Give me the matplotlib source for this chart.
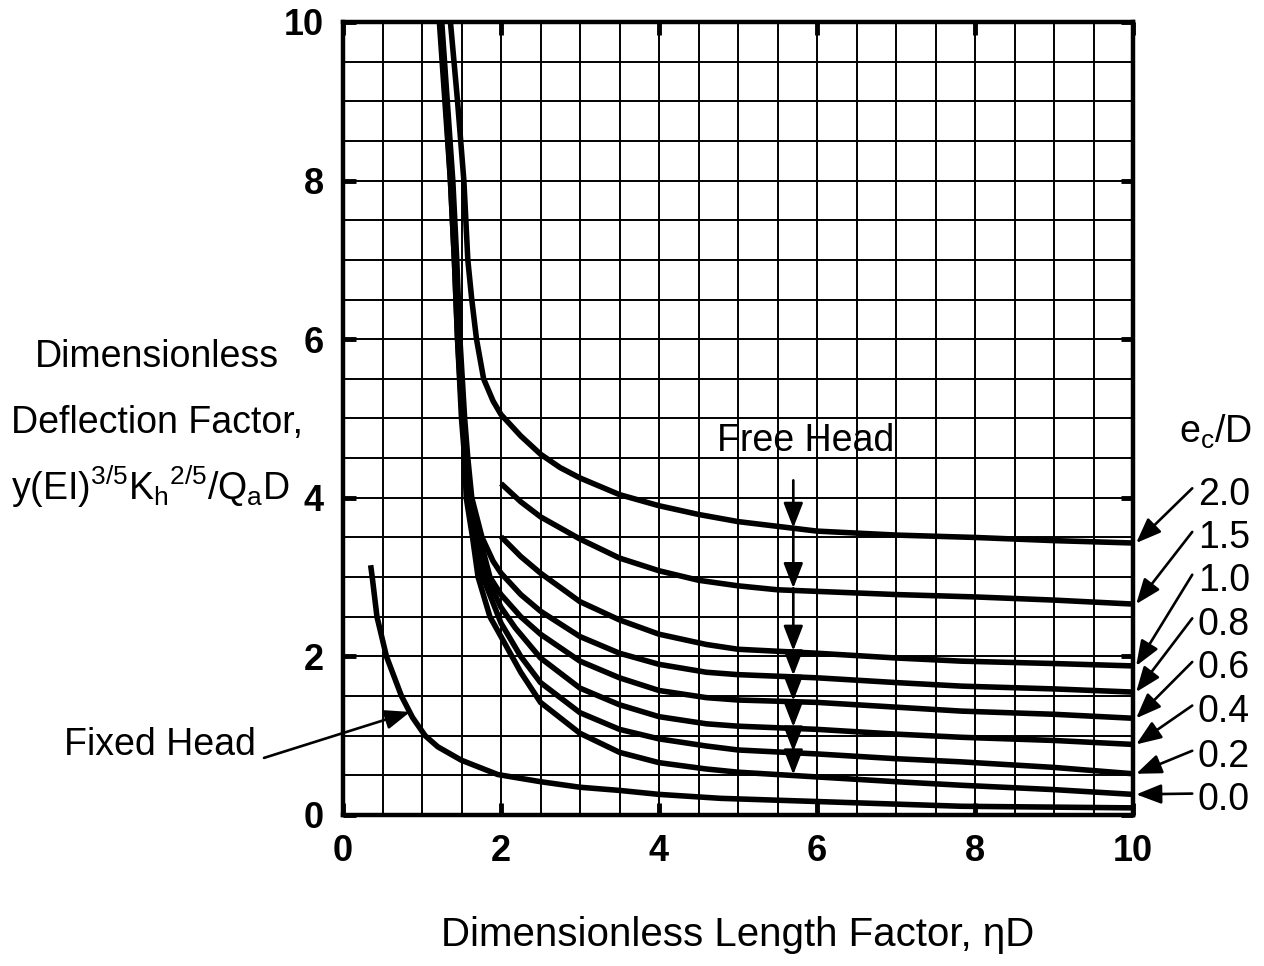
import numpy as np
import matplotlib
matplotlib.use("Agg")
import matplotlib.pyplot as plt

plt.rcParams['font.family'] = ['Liberation Sans', 'DejaVu Sans']
plt.rcParams['mathtext.fontset'] = 'custom'
plt.rcParams['mathtext.rm'] = 'Liberation Sans'
plt.rcParams['mathtext.it'] = 'Liberation Sans:italic'
plt.rcParams['mathtext.bf'] = 'Liberation Sans:bold'

# free head curves, e_c/D = 2.0 ... 0.0
x_20 = [1.36, 1.45, 1.53, 1.58, 1.63, 1.69, 1.78, 1.9, 2.0, 2.25, 2.5, 2.75, 3.0, 3.5, 4.0, 4.5, 5.0, 6.0, 7.0, 8.0, 9.0, 10.0]
y_20 = [10.0, 9.0, 8.0, 7.0, 6.5, 6.0, 5.5, 5.22, 5.05, 4.78, 4.55, 4.38, 4.25, 4.04, 3.9, 3.79, 3.7, 3.58, 3.53, 3.5, 3.46, 3.43]

x_15 = [2.0, 2.25, 2.5, 3.0, 3.5, 4.0, 4.5, 5.0, 5.5, 6.0, 7.0, 8.0, 9.0, 10.0]
y_15 = [4.18, 3.95, 3.76, 3.48, 3.24, 3.08, 2.96, 2.89, 2.84, 2.82, 2.78, 2.75, 2.71, 2.66]

x_10 = [2.0, 2.25, 2.5, 3.0, 3.5, 4.0, 4.6, 5.0, 6.0, 7.0, 7.83, 9.0, 10.0]
y_10 = [3.51, 3.26, 3.05, 2.69, 2.46, 2.28, 2.15, 2.09, 2.04, 1.98, 1.94, 1.91, 1.88]

# the 0.8 .. 0.0 curves come down together from the top edge
x_08 = [1.25, 1.32, 1.39, 1.44, 1.48, 1.54, 1.58, 1.63, 1.76, 1.9, 2.0, 2.25, 2.5, 3.0, 3.5, 4.0, 4.6, 5.0, 6.0, 7.0, 7.83, 9.0, 10.0]
y_08 = [10.0, 9.0, 8.0, 7.0, 6.0, 5.0, 4.5, 4.0, 3.5, 3.2, 3.05, 2.78, 2.57, 2.25, 2.04, 1.9, 1.8, 1.77, 1.73, 1.67, 1.625, 1.59, 1.55]

x_06 = [1.24, 1.31, 1.38, 1.43, 1.47, 1.53, 1.57, 1.61, 1.73, 1.86, 2.0, 2.25, 2.5, 3.0, 3.5, 4.0, 4.6, 5.0, 6.0, 7.0, 7.83, 9.0, 10.0]
y_06 = [10.0, 9.0, 8.0, 7.0, 6.0, 5.0, 4.5, 4.0, 3.5, 3.0, 2.78, 2.5, 2.28, 1.94, 1.73, 1.57, 1.48, 1.45, 1.42, 1.36, 1.31, 1.27, 1.22]

x_04 = [1.23, 1.3, 1.37, 1.42, 1.46, 1.52, 1.56, 1.59, 1.7, 1.82, 2.0, 2.18, 2.5, 3.0, 3.5, 4.0, 4.6, 5.0, 6.0, 7.0, 7.83, 9.0, 10.0]
y_04 = [10.0, 9.0, 8.0, 7.0, 6.0, 5.0, 4.5, 4.0, 3.5, 3.0, 2.62, 2.36, 1.98, 1.6, 1.39, 1.24, 1.15, 1.12, 1.08, 1.02, 0.98, 0.94, 0.89]

x_02 = [1.23, 1.3, 1.36, 1.41, 1.45, 1.51, 1.55, 1.57, 1.67, 1.77, 2.0, 2.25, 2.5, 3.0, 3.5, 4.0, 4.6, 5.0, 6.0, 7.0, 7.83, 9.0, 10.0]
y_02 = [10.0, 9.0, 8.0, 7.0, 6.0, 5.0, 4.5, 4.0, 3.5, 3.0, 2.42, 2.0, 1.67, 1.29, 1.08, 0.96, 0.87, 0.82, 0.77, 0.71, 0.67, 0.6, 0.52]

x_00 = [1.22, 1.29, 1.36, 1.41, 1.45, 1.5, 1.54, 1.56, 1.64, 1.71, 1.86, 2.0, 2.25, 2.5, 3.0, 3.5, 4.0, 4.6, 5.0, 6.0, 7.0, 7.83, 9.0, 10.0]
y_00 = [10.0, 9.0, 8.0, 7.0, 6.0, 5.0, 4.5, 4.0, 3.5, 3.0, 2.5, 2.25, 1.8, 1.42, 1.03, 0.79, 0.66, 0.58, 0.54, 0.48, 0.42, 0.375, 0.32, 0.26]

# fixed head curve
x_fix = [0.35, 0.37, 0.43, 0.55, 0.74, 0.88, 1.04, 1.2, 1.5, 1.96, 2.5, 3.0, 3.5, 4.0, 4.78, 6.0, 7.83, 10.0]
y_fix = [3.15, 3.0, 2.5, 2.0, 1.5, 1.23, 1.0, 0.86, 0.69, 0.51, 0.42, 0.35, 0.31, 0.26, 0.21, 0.17, 0.11, 0.09]

ec_labels = ['2.0', '1.5', '1.0', '0.8', '0.6', '0.4', '0.2', '0.0']
ec_label_y = [4.04, 3.49, 2.95, 2.40, 1.85, 1.30, 0.73, 0.19]
curves = [(x_20, y_20), (x_15, y_15), (x_10, y_10), (x_08, y_08),
          (x_06, y_06), (x_04, y_04), (x_02, y_02), (x_00, y_00)]

# "Free Head" arrow down x = 5.7, tips on each curve
free_x = 5.7
free_top = 4.22
free_tips = [3.62, 2.86, 2.07, 1.76, 1.44, 1.11, 0.80, 0.51]

W, H = 1264, 966
fig = plt.figure(figsize=(W / 100, H / 100), dpi=100)
ax = fig.add_axes([343 / W, (H - 815) / H, 790 / W, 793 / H])

ax.set_xlim(0, 10)
ax.set_ylim(0, 10)
ax.set_xticks(np.arange(0, 11, 2))
ax.set_yticks(np.arange(0, 11, 2))
ax.set_xticks(np.arange(0, 10.01, 0.5), minor=True)
ax.set_yticks(np.arange(0, 10.01, 0.5), minor=True)
ax.grid(True, which='both', color='black', linewidth=1.4)
ax.set_axisbelow(True)
ax.tick_params(which='major', direction='in', length=9, width=3.5,
               top=True, right=True, labelsize=26, pad=14)
ax.tick_params(which='minor', length=0)
for lab in ax.get_xticklabels() + ax.get_yticklabels():
    lab.set_fontweight('bold')
for sp in ax.spines.values():
    sp.set_linewidth(3.2)

for cx, cy in curves:
    ax.plot(cx, cy, color='black', linewidth=4.0, solid_capstyle='butt',
            solid_joinstyle='round', zorder=3)
ax.plot(x_fix, y_fix, color='black', linewidth=4.0, solid_capstyle='butt',
        solid_joinstyle='round', zorder=3)

arrow_kw = dict(arrowstyle='-|>,head_length=0.9,head_width=0.35',
                color='black', lw=1.9, shrinkA=0, shrinkB=0, mutation_scale=17)

# Free Head arrows
prev = free_top
for tip in free_tips:
    ax.annotate('', xy=(free_x, tip), xytext=(free_x, prev),
                arrowprops=arrow_kw, zorder=4)
    prev = tip
ax.text(free_x + 0.15, 4.72, 'Free Head', fontsize=27, ha='center', va='center',
        zorder=5)

# Fixed Head label and arrow
ax.annotate('', xy=(0.85, 1.3), xytext=(-1.0, 0.72),
            arrowprops=arrow_kw, annotation_clip=False)
ax.text(-1.1, 0.88, 'Fixed Head', fontsize=27, ha='right', va='center',
        clip_on=False)

# e_c/D labels with arrows to the curve ends
ax.text(11.05, 4.83, r'e$_{\mathrm{c}}$/D', fontsize=27, ha='center', va='center',
        clip_on=False)
for lab, ly, (cx, cy) in zip(ec_labels, ec_label_y, curves):
    ax.text(10.82, ly, lab, fontsize=27, ha='left', va='center', clip_on=False)
    ax.annotate('', xy=(10.04, cy[-1]), xytext=(10.75, ly + 0.08),
                arrowprops=arrow_kw, annotation_clip=False)

# axis labels
fig.text(738 / W, 1 - 935 / H, 'Dimensionless Length Factor, ηD', fontsize=29,
         ha='center', va='center')
fig.text(157 / W, 1 - 357 / H, 'Dimensionless', fontsize=27, ha='center', va='center')
fig.text(157 / W, 1 - 423 / H, 'Deflection Factor,', fontsize=27, ha='center', va='center')
fig.text(150 / W, 1 - 487 / H, r'y(EI)$^{3/5}$K$_{\mathrm{h}}$$^{2/5}$/Q$_{\mathrm{a}}$D',
         fontsize=27, ha='center', va='center')

fig.savefig('out.png', dpi=100)
